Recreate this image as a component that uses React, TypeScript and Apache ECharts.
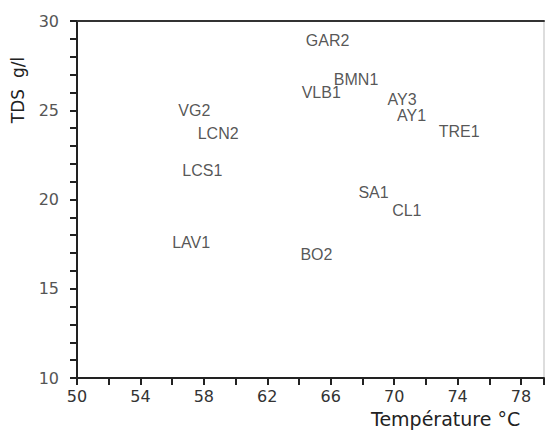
import React, { useEffect, useRef } from "react";
import * as echarts from "echarts";

const sampleNames = ["GAR2", "BMN1", "VLB1", "AY3", "AY1", "TRE1", "SA1", "CL1", "VG2", "LCN2", "LCS1", "LAV1", "BO2"];
const temperatures = [65.8, 67.6, 65.4, 70.5, 71.1, 74.1, 68.7, 70.8, 57.4, 58.9, 57.9, 57.2, 65.1];
const tdsValues = [28.9, 26.7, 26.0, 25.6, 24.7, 23.8, 20.4, 19.4, 25.0, 23.7, 21.65, 17.6, 16.9];
const xLabelValues = [50, 54, 58, 62, 66, 70, 74, 78];
const yLabelValues = [10, 15, 20, 25, 30];

export default function App() {
  const ref = useRef<HTMLDivElement>(null);
  useEffect(() => {
    if (!ref.current) return;
    const chart = echarts.init(ref.current, null, { renderer: "svg" });
    const data = sampleNames.map((n, i) => ({ name: n, value: [temperatures[i], tdsValues[i]] }));
    chart.setOption({
      animation: false,
      backgroundColor: "#ffffff",
      grid: { left: 77, right: 2, top: 21, bottom: 52, show: true, borderColor: "#bbbbbb", borderWidth: 1 },
      xAxis: [
        {
          type: "value",
          min: 50,
          max: 79.45,
          interval: 2,
          position: "bottom",
          splitLine: { show: false },
          axisLine: { lineStyle: { color: "#222", width: 2 } },
          axisTick: { length: 7, lineStyle: { color: "#222", width: 2 } },
          axisLabel: {
            margin: 10,
            color: "#333",
            fontSize: 16,
            fontFamily: "DejaVu Sans",
            formatter: (v: number) => (xLabelValues.includes(Math.round(v * 10) / 10) ? String(v) : ""),
          },
        },
        {
          type: "value",
          min: 50,
          max: 79.45,
          position: "top",
          splitLine: { show: false },
          axisLine: { lineStyle: { color: "#333", width: 2 } },
          axisTick: { show: false },
          axisLabel: { show: false },
        },
      ],
      yAxis: {
        type: "value",
        min: 10,
        max: 30,
        interval: 1,
        splitLine: { show: false },
        axisLine: { lineStyle: { color: "#222", width: 2 } },
        axisTick: { length: 7, lineStyle: { color: "#222", width: 2 } },
        axisLabel: {
          margin: 18,
          color: "#555",
          fontSize: 16,
          fontFamily: "DejaVu Sans",
          formatter: (v: number) => (yLabelValues.includes(v) ? String(v) : ""),
        },
      },
      series: [
        {
          type: "scatter",
          data,
          symbolSize: 1,
          itemStyle: { color: "rgba(0,0,0,0)" },
          label: {
            show: true,
            position: "inside",
            formatter: "{b}",
            color: "#2a2a2a",
            fontSize: 16,
            fontFamily: "Liberation Sans",
          },
        },
      ],
      graphic: [
        {
          type: "text",
          left: 371,
          top: 409,
          style: { text: "Température °C", fontSize: 19, fontFamily: "DejaVu Sans", fill: "#222" },
        },
        {
          type: "text",
          x: 18,
          y: 90,
          rotation: Math.PI / 2,
          style: {
            text: "TDS  g/l",
            fontSize: 17,
            fontFamily: "DejaVu Sans",
            fill: "#222",
            align: "center",
            verticalAlign: "middle",
          },
        },
      ],
    });
    return () => chart.dispose();
  }, []);
  return <div ref={ref} style={{ position: "fixed", left: 0, top: 0, width: 547, height: 430 }} />;
}
